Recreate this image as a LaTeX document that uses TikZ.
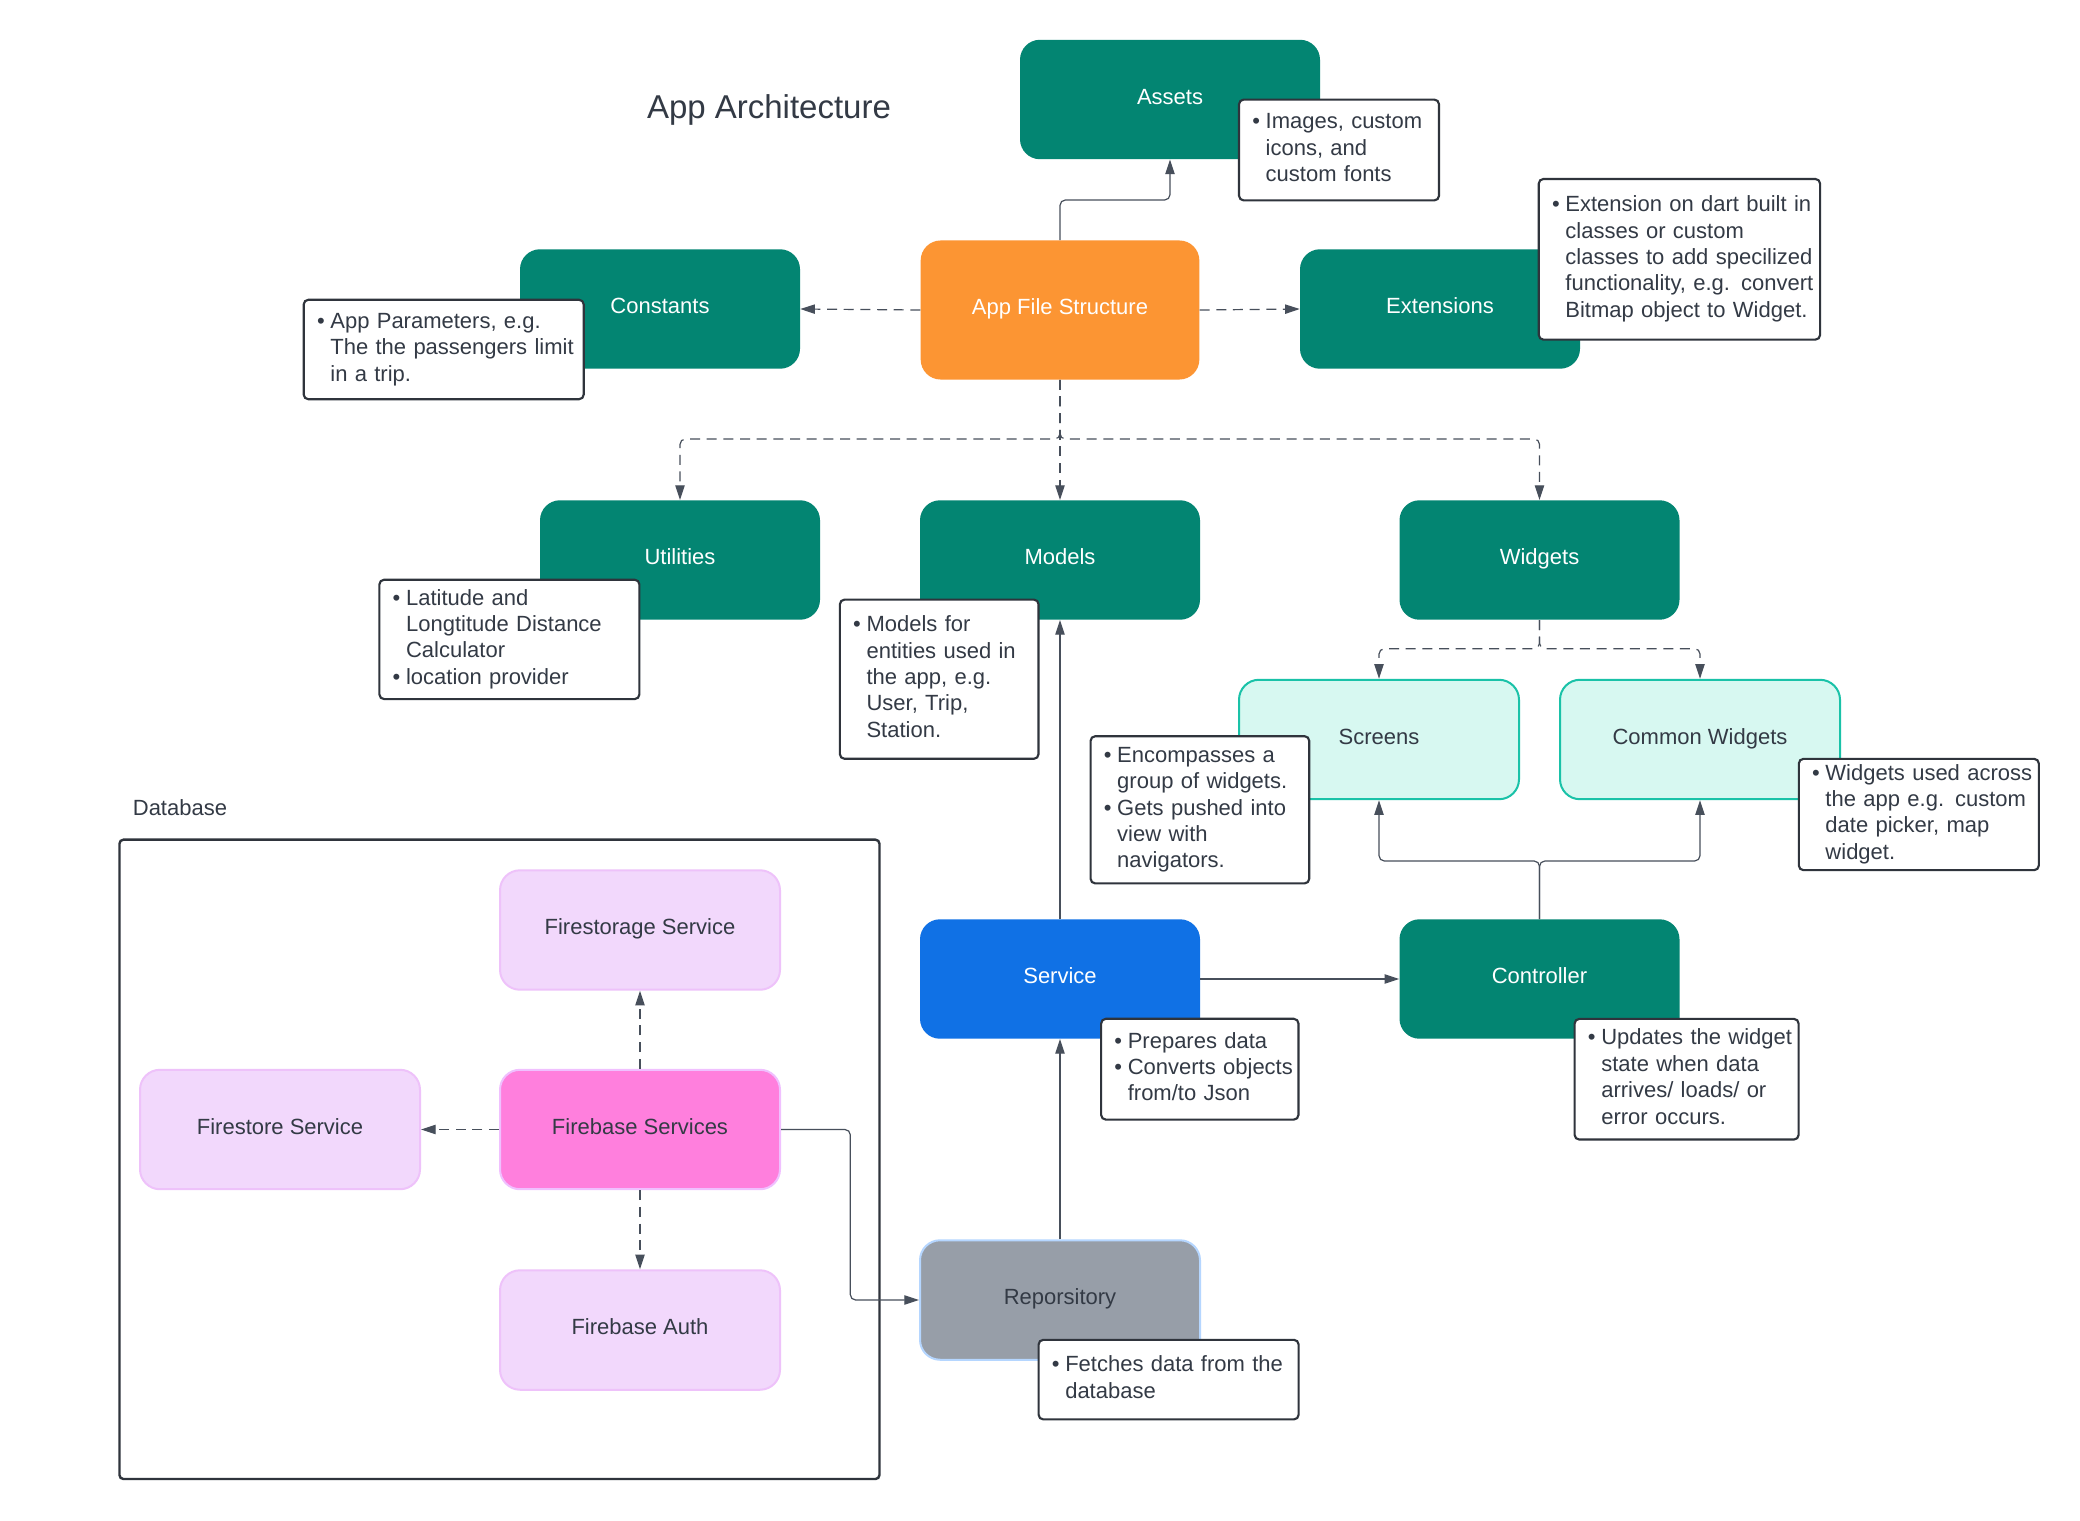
\documentclass[tikz,border=0pt]{standalone}
\usepackage{fontspec}
\setmainfont{Liberation Sans}
\usetikzlibrary{arrows.meta}
\definecolor{tealbox}{HTML}{038572}
\definecolor{orangebox}{HTML}{FC9533}
\definecolor{bluebox}{HTML}{1071E5}
\definecolor{greybox}{HTML}{979EA8}
\definecolor{greyborder}{HTML}{B5D6FF}
\definecolor{mintfill}{HTML}{D7F8F1}
\definecolor{mintborder}{HTML}{1AC2A8}
\definecolor{lavfill}{HTML}{F2D8FC}
\definecolor{lavborder}{HTML}{EEC2FA}
\definecolor{pinkfill}{HTML}{FF7FDD}
\definecolor{pinkborder}{HTML}{F0C0FF}
\definecolor{ctext}{HTML}{333A45}
\definecolor{cline}{HTML}{474F5B}
\definecolor{cframe}{HTML}{2F343C}
\newcommand{\bu}{\makebox[10pt][l]{•}}
\tikzset{
  nbox/.style={rounded corners=15pt, minimum width=210pt, minimum height=89.6pt,
    inner sep=0pt, font=\fontsize{16.5}{19.8}\selectfont, align=center,
    text height=12pt, text depth=5pt},
  tealnode/.style={nbox, fill=tealbox, text=white},
  mintnode/.style={nbox, fill=mintfill, draw=mintborder, line width=1.5pt, text=ctext},
  lavnode/.style={nbox, fill=lavfill, draw=lavborder, line width=1.5pt, text=ctext},
  callout/.style={draw=cframe, line width=1.6pt, fill=white, rounded corners=3.5pt,
    inner xsep=10pt, inner ysep=0pt, font=\fontsize{16.5}{19.8}\selectfont,
    text=ctext, align=left},
  conn/.style={draw=cline, line width=0.9pt, rounded corners=4pt,
    -{Triangle[length=11pt,width=7pt]}},
  dconn/.style={conn, dash pattern=on 7.5pt off 5pt},
}
\begin{document}
\begin{tikzpicture}[x=0.75pt,y=-0.75pt]
\fill[white] (0,0) rectangle (2080,1520);
\useasboundingbox (0,0) rectangle (2080,1520);

% title and database frame
\node[font=\fontsize{24.75}{30}\selectfont, text=ctext] (title) at (769,110) {App Architecture};
\node[anchor=west, inner sep=0pt, font=\fontsize{16.5}{19.8}\selectfont, text=ctext] (dblabel) at (132.6,808) {Database};
\node[draw=cframe, line width=1.8pt, rounded corners=3pt, minimum width=570pt, minimum height=479.5pt, inner sep=0pt] (dbframe) at (499.45,1159.35) {};

% boxes
\node[tealnode, minimum width=225pt] (assets) at (1170,99.5) {Assets};
\node[nbox, fill=orangebox, text=white, minimum width=209pt, minimum height=104.3pt] (afs) at (1060,310) {App File Structure};
\node[tealnode] (const) at (660,309) {Constants};
\node[tealnode] (ext) at (1440,309) {Extensions};
\node[tealnode] (util) at (680,560) {Utilities};
\node[tealnode] (models) at (1060,560) {Models};
\node[tealnode] (widgets) at (1539.5,560) {Widgets};
\node[mintnode] (screens) at (1379,739.5) {Screens};
\node[mintnode] (cw) at (1700,739.5) {Common Widgets};
\node[nbox, fill=bluebox, text=white] (service) at (1060,979) {Service};
\node[tealnode] (ctrl) at (1539.5,979) {Controller};
\node[nbox, fill=greybox, draw=greyborder, line width=1.5pt, text=ctext] (repo) at (1060,1300) {Reporsitory};
\node[lavnode] (fstorage) at (640,930) {Firestorage Service};
\node[lavnode] (fstore) at (280,1129.5) {Firestore Service};
\node[nbox, fill=pinkfill, draw=pinkborder, line width=1.5pt, text=ctext] (fbs) at (640,1129.5) {Firebase Services};
\node[lavnode] (fauth) at (640,1330) {Firebase Auth};

% junction coordinates
\coordinate (ya) at (0,200);
\coordinate (yb) at (0,439);
\coordinate (yw) at (0,648.7);
\coordinate (yc) at (0,861);
\coordinate (xf) at (850.3,0);

% connectors
\draw[conn] (afs.north) -- (afs.north |- ya) -- (assets.south |- ya) -- (assets.south);
\draw[dconn] (afs.west) -- (const.east);
\draw[dconn] (afs.east) -- (ext.west);
\draw[dconn] (afs.south) -- (models.north);
\draw[dconn] (afs.south) -- (afs.south |- yb) -- (util.north |- yb) -- (util.north);
\draw[dconn] (afs.south) -- (afs.south |- yb) -- (widgets.north |- yb) -- (widgets.north);
\draw[dconn] (widgets.south) -- (widgets.south |- yw) -- (screens.north |- yw) -- (screens.north);
\draw[dconn] (widgets.south) -- (widgets.south |- yw) -- (cw.north |- yw) -- (cw.north);
\draw[conn] (service.north) -- (models.south);
\draw[conn] (service.east) -- (ctrl.west);
\draw[conn] (ctrl.north) -- (ctrl.north |- yc) -- (screens.south |- yc) -- (screens.south);
\draw[conn] (ctrl.north) -- (ctrl.north |- yc) -- (cw.south |- yc) -- (cw.south);
\draw[conn] (repo.north) -- (service.south);
\draw[conn] (fbs.east) -- (xf |- fbs.east) -- (xf |- repo.west) -- (repo.west);
\draw[dconn] (fbs.north) -- (fstorage.south);
\draw[dconn] (fbs.west) -- (fstore.east);
\draw[dconn] (fbs.south) -- (fauth.north);

% callouts
\node[callout, minimum width=150pt, minimum height=75.6pt, text width=130pt] (c_assets) at (1339,150)
  {\begin{tabular}{@{}l@{}l@{}}\bu&Images, custom\\&icons, and\\&custom fonts\end{tabular}};
\node[callout, minimum width=210pt, minimum height=74.6pt, text width=190pt] (c_const) at (443.7,349.5)
  {\begin{tabular}{@{}l@{}l@{}}\bu&App Parameters, e.g.\\&The the passengers limit\\&in a trip.\end{tabular}};
\node[callout, minimum width=211pt, minimum height=120.5pt, text width=191pt] (c_ext) at (1679.4,259.3)
  {\begin{tabular}{@{}l@{}l@{}}\bu&Extension on dart built in\\&classes or custom\\&classes to add specilized\\&functionality, e.g. convert\\&Bitmap object to Widget.\end{tabular}};
\node[callout, minimum width=195pt, minimum height=89.5pt, text width=175pt] (c_util) at (509.4,639.4)
  {\begin{tabular}{@{}l@{}l@{}}\bu&Latitude and\\&Longtitude Distance\\&Calculator\\\bu&location provider\end{tabular}};
\node[callout, minimum width=149pt, minimum height=119.4pt, text width=129pt] (c_models) at (939.2,679.2)
  {\begin{tabular}{@{}l@{}l@{}}\bu&Models for\\&entities used in\\&the app, e.g.\\&User, Trip,\\&Station.\end{tabular}};
\node[callout, minimum width=164pt, minimum height=110.4pt, text width=144pt] (c_screens) at (1199.9,809.8)
  {\begin{tabular}{@{}l@{}l@{}}\bu&Encompasses a\\&group of widgets.\\\bu&Gets pushed into\\&view with\\&navigators.\end{tabular}};
\node[callout, minimum width=180pt, minimum height=83.5pt, text width=160pt] (c_cw) at (1918.8,814.5)
  {\begin{tabular}{@{}l@{}l@{}}\bu&Widgets used across\\&the app e.g. custom\\&date picker, map\\&widget.\end{tabular}};
\node[callout, minimum width=148pt, minimum height=75.6pt, text width=128pt] (c_service) at (1199.8,1069.2)
  {\begin{tabular}{@{}l@{}l@{}}\bu&Prepares data\\\bu&Converts objects\\&from/to Json\end{tabular}};
\node[callout, minimum width=168pt, minimum height=90.5pt, text width=148pt] (c_ctrl) at (1686.6,1079.2)
  {\begin{tabular}{@{}l@{}l@{}}\bu&Updates the widget\\&state when data\\&arrives/ loads/ or\\&error occurs.\end{tabular}};
\node[callout, minimum width=195pt, minimum height=59.7pt, text width=175pt] (c_repo) at (1168.6,1379.6)
  {\begin{tabular}{@{}l@{}l@{}}\bu&Fetches data from the\\&database\end{tabular}};
\end{tikzpicture}
\end{document}
